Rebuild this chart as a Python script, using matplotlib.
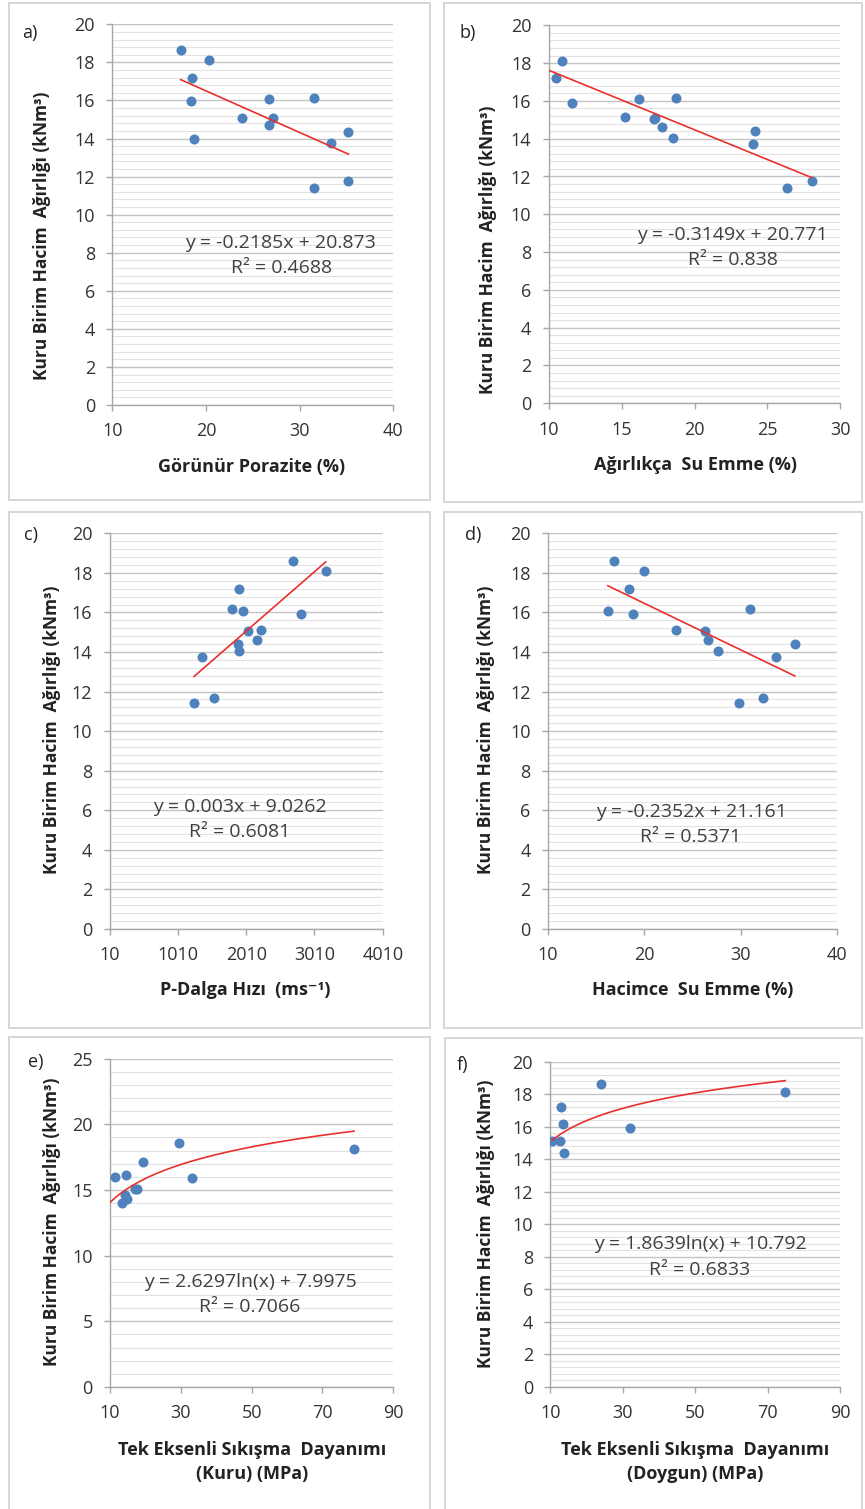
import numpy as np
import matplotlib
matplotlib.use("Agg")
import matplotlib.pyplot as plt
from matplotlib.ticker import MultipleLocator
from matplotlib.patches import Rectangle

plt.rcParams['font.family'] = ['Open Sans', 'DejaVu Sans']

# ---------------- data ----------------
a_x = [17.3, 20.3, 18.5, 18.4, 18.7, 23.9, 26.7, 27.2, 26.7, 31.5, 33.4, 35.2, 31.5, 35.2]
a_y = [18.65, 18.15, 17.2, 15.95, 14.0, 15.1, 16.05, 15.1, 14.7, 16.15, 13.75, 14.35, 11.4, 11.75]
a_fit = (-0.2185, 20.873)
a_eq = ["y = -0.2185x + 20.873", "R² = 0.4688"]

b_x = [10.5, 10.9, 11.6, 15.2, 16.2, 17.2, 17.3, 17.8, 18.5, 18.75, 24.15, 24.0, 26.35, 28.05]
b_y = [17.2, 18.1, 15.9, 15.15, 16.1, 15.05, 15.1, 14.6, 14.05, 16.15, 14.4, 13.7, 11.4, 11.75]
b_fit = (-0.3149, 20.771)
b_eq = ["y = -0.3149x + 20.771", "R² = 0.838"]

c_x = [2700, 3175, 1910, 1795, 1965, 2820, 2030, 2225, 2175, 1890, 1910, 1365, 1535, 1245]
c_y = [18.6, 18.1, 17.2, 16.15, 16.05, 15.9, 15.05, 15.1, 14.6, 14.4, 14.05, 13.75, 11.7, 11.4]
c_fit = (0.003, 9.0262)
c_eq = ["y = 0.003x + 9.0262", "R² = 0.6081"]

d_x = [16.8, 20.0, 18.35, 16.2, 18.8, 23.3, 26.25, 26.6, 27.6, 30.9, 33.65, 35.6, 29.85, 32.3]
d_y = [18.6, 18.1, 17.2, 16.05, 15.9, 15.1, 15.05, 14.6, 14.05, 16.15, 13.75, 14.4, 11.4, 11.7]
d_fit = (-0.2352, 21.161)
d_eq = ["y = -0.2352x + 21.161", "R² = 0.5371"]

e_x = [11.4, 14.4, 19.4, 29.6, 33.2, 78.9, 17.0, 17.6, 14.2, 14.8, 13.4]
e_y = [16.0, 16.15, 17.15, 18.6, 15.9, 18.1, 15.05, 15.05, 14.6, 14.3, 14.0]
e_fit = (2.6297, 7.9975)
e_eq = ["y = 2.6297ln(x) + 7.9975", "R² = 0.7066"]

f_x = [23.9, 74.8, 13.0, 13.6, 32.1, 13.7, 10.6, 12.7]
f_y = [18.65, 18.15, 17.2, 16.2, 15.95, 14.4, 15.1, 15.1]
f_fit = (1.8639, 10.792)
f_eq = ["y = 1.8639ln(x) + 10.792", "R² = 0.6833"]

ylabel_text = "Kuru Birim Hacim  Ağırlığı (kNm³)"
xlabels = ["Görünür Porazite (%)", "Ağırlıkça  Su Emme (%)", "P-Dalga Hızı  (ms⁻¹)",
           "Hacimce  Su Emme (%)", "Tek Eksenli Sıkışma  Dayanımı\n(Kuru) (MPa)",
           "Tek Eksenli Sıkışma  Dayanımı\n(Doygun) (MPa)"]
panel_letters = ["a)", "b)", "c)", "d)", "e)", "f)"]

# ---------------- layout (pixels) ----------------
W, H = 865, 1509
fig = plt.figure(figsize=(W / 100, H / 100), dpi=100)
fig.patch.set_facecolor("white")

def fx(x):
    return x / W

def fy(y):
    return 1 - y / H

# panel frames
for (x0, y0, x1, y1) in [(9, 3, 430, 500), (444, 3, 862, 502), (9, 512, 430, 1028),
                         (444, 512, 862, 1028), (9, 1037, 430, 1530), (445, 1038, 862, 1530)]:
    fig.patches.append(Rectangle((fx(x0), fy(y1)), fx(x1 - x0), (y1 - y0) / H,
                                 transform=fig.transFigure, fill=False,
                                 edgecolor="#d6d6d6", lw=1.4))

panels = [
    dict(x=a_x, y=a_y, fit=a_fit, eq=a_eq, kind="lin", box=(112.3, 24.3, 393.3, 405),
         xlim=(10, 40), xstep=10, ylim=(0, 20), ystep=2, trange=(min(a_x), max(a_x)),
         letter=(30, 33), ylab=(42, 236), xlab=(252, 467), eqpos=(280, 243), r2pos=(282, 268)),
    dict(x=b_x, y=b_y, fit=b_fit, eq=b_eq, kind="lin", box=(548.7, 25.3, 840.3, 403.3),
         xlim=(10, 30), xstep=5, ylim=(0, 20), ystep=2, trange=(10, max(b_x)),
         letter=(468, 33), ylab=(488, 250), xlab=(696, 465), eqpos=(732, 235), r2pos=(733, 260)),
    dict(x=c_x, y=c_y, fit=c_fit, eq=c_eq, kind="lin", box=(109.7, 533.3, 382.7, 929),
         xlim=(10, 4010), xstep=1000, ylim=(0, 20), ystep=2, trange=(min(c_x), max(c_x)),
         letter=(31, 535), ylab=(52, 730), xlab=(245, 990), eqpos=(240, 807), r2pos=(240, 832)),
    dict(x=d_x, y=d_y, fit=d_fit, eq=d_eq, kind="lin", box=(548, 533.3, 837.3, 929),
         xlim=(10, 40), xstep=10, ylim=(0, 20), ystep=2, trange=(min(d_x), max(d_x)),
         letter=(473, 535), ylab=(486, 730), xlab=(693, 990), eqpos=(691, 812), r2pos=(691, 837)),
    dict(x=e_x, y=e_y, fit=e_fit, eq=e_eq, kind="log", box=(110, 1058.7, 393.3, 1387),
         xlim=(10, 90), xstep=20, ylim=(0, 25), ystep=5, trange=(10, max(e_x)),
         letter=(36, 1062), ylab=(52, 1222), xlab=(252, 1462), eqpos=(250, 1282), r2pos=(250, 1307)),
    dict(x=f_x, y=f_y, fit=f_fit, eq=f_eq, kind="log", box=(550.3, 1061.7, 840.3, 1387),
         xlim=(10, 90), xstep=20, ylim=(0, 20), ystep=2, trange=(min(f_x), max(f_x)),
         letter=(462, 1065), ylab=(486, 1224), xlab=(695, 1462), eqpos=(700, 1244), r2pos=(700, 1270)),
]

FS = 13
for i, p in enumerate(panels):
    x0, y0, x1, y1 = p["box"]
    ax = fig.add_axes([fx(x0), fy(y1), fx(x1 - x0), (y1 - y0) / H])
    ax.set_xlim(*p["xlim"])
    ax.set_ylim(*p["ylim"])
    ax.set_xticks(np.arange(p["xlim"][0], p["xlim"][1] + p["xstep"] * 0.5, p["xstep"]))
    ax.set_yticks(np.arange(p["ylim"][0], p["ylim"][1] + p["ystep"] * 0.5, p["ystep"]))
    ax.yaxis.set_minor_locator(MultipleLocator(p["ystep"] / 5))
    ax.grid(which="major", axis="y", color="#c4c4c4", lw=1.0)
    ax.grid(which="minor", axis="y", color="#e2e2e2", lw=0.8)
    ax.set_axisbelow(True)
    for s in ["top", "right"]:
        ax.spines[s].set_visible(False)
    for s in ["left", "bottom"]:
        ax.spines[s].set_color("#a6a6a6")
        ax.spines[s].set_linewidth(1.0)
    ax.tick_params(which="major", direction="out", length=4.5, width=1.0, color="#a6a6a6",
                   labelsize=FS, labelcolor="#333333", pad=8)
    ax.tick_params(which="minor", length=0)
    ax.scatter(p["x"], p["y"], s=52, color="#4f81bd", zorder=3, linewidths=0)
    xs = np.linspace(p["trange"][0], p["trange"][1], 200)
    m, c = p["fit"]
    ys = m * np.log(xs) + c if p["kind"] == "log" else m * xs + c
    ax.plot(xs, ys, color="#e8302c", lw=1.2, zorder=4)

    ax.set_xlabel(xlabels[i], fontsize=FS, fontweight="bold", color="#222222",
                  va="center", ha="center", linespacing=1.45)
    ax.xaxis.set_label_coords(fx(p["xlab"][0]), fy(p["xlab"][1]), transform=fig.transFigure)
    ax.set_ylabel(ylabel_text, fontsize=12.5, fontweight="bold", color="#222222",
                  va="center", ha="center")
    ax.yaxis.set_label_coords(fx(p["ylab"][0]), fy(p["ylab"][1]), transform=fig.transFigure)

    fig.text(fx(p["letter"][0]), fy(p["letter"][1]), panel_letters[i], fontsize=FS,
             color="#222222", ha="center", va="center")
    fig.text(fx(p["eqpos"][0]), fy(p["eqpos"][1]), p["eq"][0], fontsize=14,
             color="#404040", ha="center", va="center")
    fig.text(fx(p["r2pos"][0]), fy(p["r2pos"][1]), p["eq"][1], fontsize=14,
             color="#404040", ha="center", va="center")

fig.savefig("out.png", dpi=100, facecolor="white")
